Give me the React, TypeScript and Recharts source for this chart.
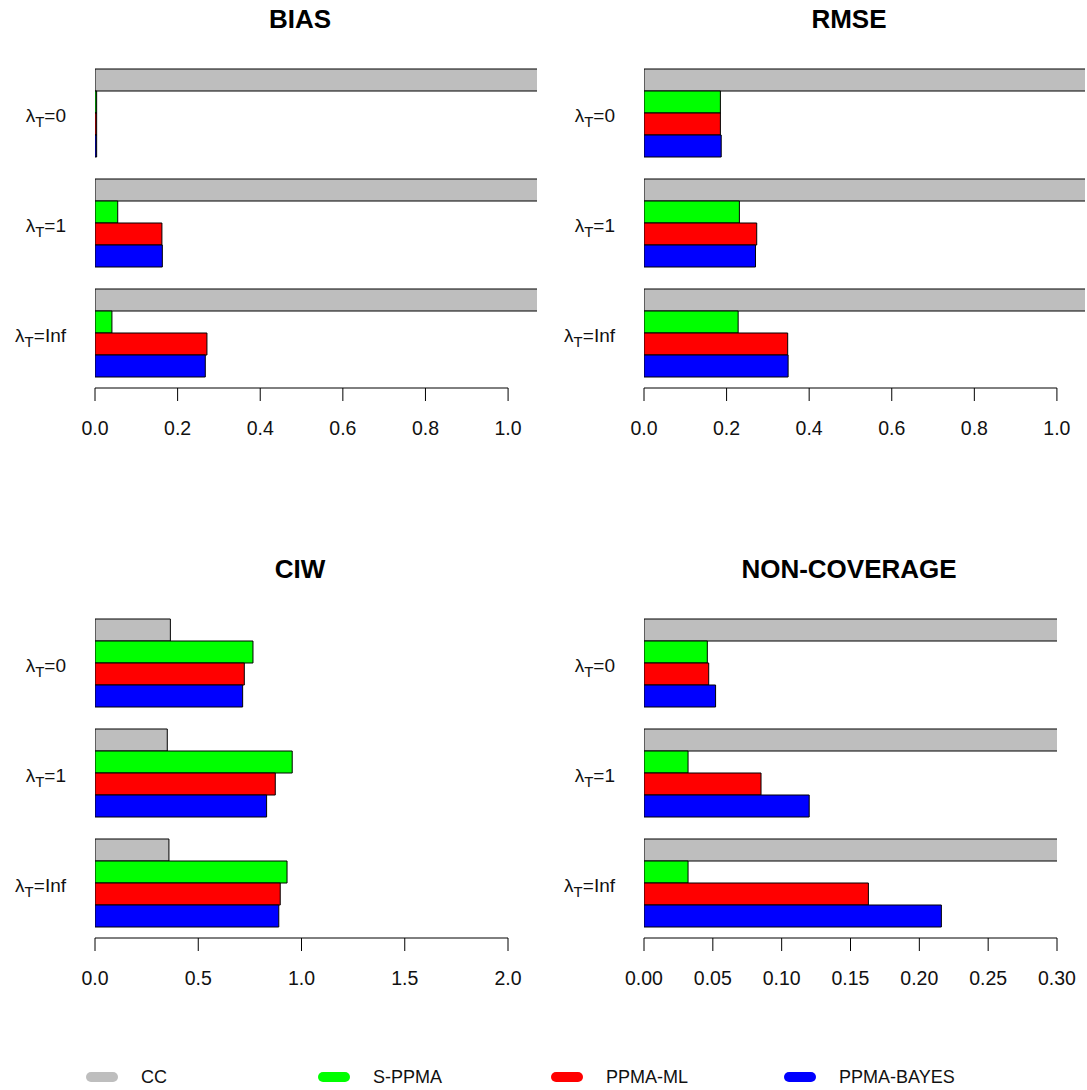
import React from 'react';
import { BarChart, Bar, XAxis, YAxis } from 'recharts';

const lambdaLevels = ['0', '1', 'Inf'];
const seriesKeys = ['cc', 'sppma', 'ml', 'bayes'];
const seriesNames = ['CC', 'S-PPMA', 'PPMA-ML', 'PPMA-BAYES'];
const seriesColors = ['#bebebe', '#00ff00', '#ff0000', '#0000ff'];

// BIAS (CC runs past the right edge, so its values are only rough guesses)
const biasCC = [1.42, 1.25, 1.31];
const biasSPPMA = [0.004, 0.055, 0.041];
const biasML = [0.004, 0.162, 0.271];
const biasBAYES = [0.004, 0.163, 0.267];

// RMSE
const rmseCC = [1.45, 1.28, 1.33];
const rmseSPPMA = [0.185, 0.231, 0.228];
const rmseML = [0.185, 0.273, 0.348];
const rmseBAYES = [0.187, 0.27, 0.349];

// CIW
const ciwCC = [0.365, 0.35, 0.358];
const ciwSPPMA = [0.765, 0.955, 0.93];
const ciwML = [0.723, 0.873, 0.897];
const ciwBAYES = [0.715, 0.831, 0.89];

// NON-COVERAGE
const ncCC = [0.62, 0.55, 0.58];
const ncSPPMA = [0.046, 0.032, 0.032];
const ncML = [0.047, 0.085, 0.163];
const ncBAYES = [0.052, 0.12, 0.216];

const ticksUnit = [0, 0.2, 0.4, 0.6, 0.8, 1.0];
const ticksCIW = [0, 0.5, 1.0, 1.5, 2.0];
const ticksNC = [0, 0.05, 0.1, 0.15, 0.2, 0.25, 0.3];

const makeRows = (cc: number[], s: number[], ml: number[], b: number[]) =>
  lambdaLevels.map((lam, i) => ({ lam, cc: cc[i], sppma: s[i], ml: ml[i], bayes: b[i] }));

const FONT = '"Liberation Sans", Arial, sans-serif';
const PANEL_H = 470;
const PLOT_TOP = 58;
const PLOT_H = 330;
const X_AXIS_H = 60;
const Y_AXIS_W = 95;
const RIGHT_PAD = 40;
const TICK_SIZE = 13;
const TICK_MARGIN = 21;

const panels = [
  { title: 'BIAS', rows: makeRows(biasCC, biasSPPMA, biasML, biasBAYES), max: 1.07, ticks: ticksUnit, digits: 1, left: 0, top: 0, plotW: 442 },
  { title: 'RMSE', rows: makeRows(rmseCC, rmseSPPMA, rmseML, rmseBAYES), max: 1.068, ticks: ticksUnit, digits: 1, left: 549, top: 0, plotW: 441 },
  { title: 'CIW', rows: makeRows(ciwCC, ciwSPPMA, ciwML, ciwBAYES), max: 2.0, ticks: ticksCIW, digits: 1, left: 0, top: 550, plotW: 413 },
  { title: 'NON-COVERAGE', rows: makeRows(ncCC, ncSPPMA, ncML, ncBAYES), max: 0.3, ticks: ticksNC, digits: 2, left: 549, top: 550, plotW: 413 },
];

// x tick: label plus the R-style axis line that only runs from first to last tick
function XTick(props: any) {
  const { x, y, payload, index, digits, axisLen } = props;
  const axisY = y - TICK_SIZE - TICK_MARGIN;
  return (
    <g>
      {index === 0 && <line x1={x} x2={x + axisLen} y1={axisY} y2={axisY} stroke="#000" />}
      <text x={x} y={y + 13} textAnchor="middle" fontSize={19.5} fontFamily={FONT} fill="#111">
        {Number(payload.value).toFixed(digits)}
      </text>
    </g>
  );
}

function YTick(props: any) {
  const { x, y, payload } = props;
  return (
    <text x={x} y={y + 9} textAnchor="end" fontSize={19} fontFamily={FONT} fill="#111">
      λ
      <tspan dy={5} fontSize={15}>T</tspan>
      <tspan dy={-5}>={payload.value}</tspan>
    </text>
  );
}

function Panel({ p }: { p: (typeof panels)[number] }) {
  const width = Y_AXIS_W + p.plotW + RIGHT_PAD;
  const axisLen = (p.ticks[p.ticks.length - 1] / p.max) * p.plotW;
  return (
    <div style={{ position: 'absolute', left: p.left, top: p.top }}>
      <BarChart
        width={width}
        height={PANEL_H}
        data={p.rows}
        layout="vertical"
        margin={{ top: PLOT_TOP, right: RIGHT_PAD, left: 0, bottom: PANEL_H - PLOT_TOP - PLOT_H - X_AXIS_H }}
        barCategoryGap="10%"
        barGap={0}
      >
        <XAxis
          type="number"
          domain={[0, p.max]}
          allowDataOverflow
          ticks={p.ticks}
          interval={0}
          height={X_AXIS_H}
          axisLine={false}
          stroke="#000"
          tickSize={TICK_SIZE}
          tickMargin={TICK_MARGIN}
          tick={<XTick digits={p.digits} axisLen={axisLen} />}
        />
        <YAxis
          type="category"
          dataKey="lam"
          width={Y_AXIS_W}
          axisLine={false}
          tickLine={false}
          tickSize={0}
          tickMargin={29}
          tick={<YTick />}
        />
        {seriesKeys.map((k, i) => (
          <Bar
            key={k}
            dataKey={k}
            name={seriesNames[i]}
            fill={seriesColors[i]}
            stroke="#000"
            strokeWidth={1}
            isAnimationActive={false}
          />
        ))}
      </BarChart>
    </div>
  );
}

const titlePos = [
  { x: 300, y: 28 },
  { x: 849, y: 28 },
  { x: 300, y: 578 },
  { x: 849, y: 578 },
];
const legendX = [84, 316, 549, 782];

export default function App() {
  return (
    <div
      style={{
        position: 'absolute',
        left: 0,
        top: 0,
        width: 1087,
        height: 1090,
        overflow: 'hidden',
        background: '#fff',
        fontFamily: FONT,
      }}
    >
      {panels.map((p) => (
        <Panel key={p.title} p={p} />
      ))}
      <svg width={1087} height={1090} style={{ position: 'absolute', left: 0, top: 0, pointerEvents: 'none' }}>
        {panels.map((p, i) => (
          <text key={p.title} x={titlePos[i].x} y={titlePos[i].y} textAnchor="middle" fontSize={26} fontWeight="bold" fontFamily={FONT} fill="#000">
            {p.title}
          </text>
        ))}
        {seriesNames.map((name, i) => (
          <g key={name}>
            <line x1={legendX[i] + 7} x2={legendX[i] + 29} y1={1077} y2={1077} stroke={seriesColors[i]} strokeWidth={10} strokeLinecap="round" />
            <text x={legendX[i] + 57} y={1083} fontSize={18} fontFamily={FONT} fill="#111">
              {name}
            </text>
          </g>
        ))}
      </svg>
    </div>
  );
}
